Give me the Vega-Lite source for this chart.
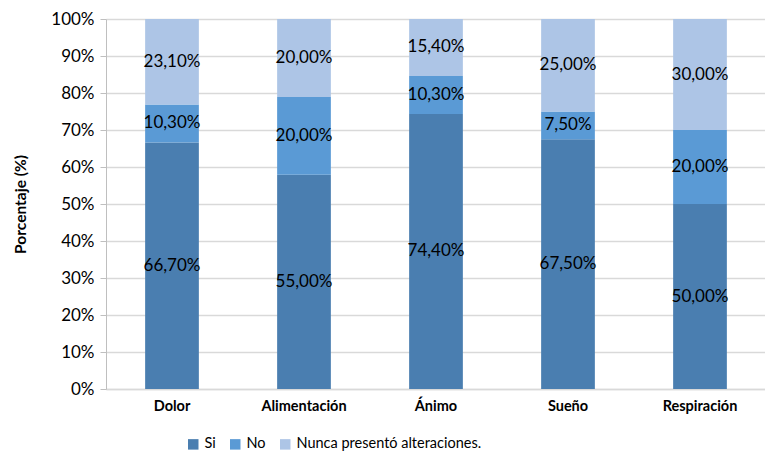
{
  "$schema": "https://vega.github.io/schema/vega-lite/v6.json",
  "width": 660,
  "height": 370,
  "autosize": {"type": "none"},
  "padding": {"left": 106, "top": 19, "right": 0, "bottom": 65},
  "background": "white",
  "config": {
    "locale": {"number": {"decimal": ",", "thousands": ".", "grouping": [3], "currency": ["", " €"]}},
    "view": {"stroke": null},
    "font": "Lato",
    "axisY": {
      "title": "Porcentaje (%)",
      "titleFont": "Lato",
      "titleFontSize": 15.5,
      "titleFontWeight": "bold",
      "titleColor": "#000000",
      "titlePadding": 22,
      "format": ".0%",
      "values": [0, 0.1, 0.2, 0.3, 0.4, 0.5, 0.6, 0.7, 0.8, 0.9, 1],
      "labelOverlap": false,
      "labelFont": "Lato",
      "labelFontSize": 17,
      "labelColor": "#000000",
      "labelPadding": 6,
      "tickSize": 6,
      "tickColor": "#bfbfbf",
      "domainColor": "#bfbfbf",
      "gridColor": "#d9d9d9",
      "gridWidth": 1.5
    }
  },
  "data": {
    "values": [
      {"cat": "Dolor", "serie": "Si", "v": 0.667},
      {"cat": "Dolor", "serie": "No", "v": 0.103},
      {"cat": "Dolor", "serie": "Nunca presentó alteraciones.", "v": 0.231},
      {"cat": "Alimentación", "serie": "Si", "v": 0.55},
      {"cat": "Alimentación", "serie": "No", "v": 0.20},
      {"cat": "Alimentación", "serie": "Nunca presentó alteraciones.", "v": 0.20},
      {"cat": "Ánimo", "serie": "Si", "v": 0.744},
      {"cat": "Ánimo", "serie": "No", "v": 0.103},
      {"cat": "Ánimo", "serie": "Nunca presentó alteraciones.", "v": 0.154},
      {"cat": "Sueño", "serie": "Si", "v": 0.675},
      {"cat": "Sueño", "serie": "No", "v": 0.075},
      {"cat": "Sueño", "serie": "Nunca presentó alteraciones.", "v": 0.25},
      {"cat": "Respiración", "serie": "Si", "v": 0.50},
      {"cat": "Respiración", "serie": "No", "v": 0.20},
      {"cat": "Respiración", "serie": "Nunca presentó alteraciones.", "v": 0.30}
    ]
  },
  "transform": [
    {"calculate": "indexof(['Si','No','Nunca presentó alteraciones.'], datum.serie)", "as": "ord"},
    {"stack": "v", "groupby": ["cat"], "sort": [{"field": "ord", "order": "ascending"}], "offset": "normalize", "as": ["y0", "y1"]},
    {"calculate": "(datum.y0 + datum.y1) / 2", "as": "ymid"}
  ],
  "encoding": {
    "x": {
      "field": "cat",
      "type": "nominal",
      "sort": ["Dolor", "Alimentación", "Ánimo", "Sueño", "Respiración"],
      "scale": {"paddingInner": 0.593, "paddingOuter": 0.2965},
      "axis": {
        "title": null,
        "labelAngle": 0,
        "labelFont": "Lato",
        "labelFontWeight": "bold",
        "labelFontSize": 14.5,
        "labelColor": "#000000",
        "labelPadding": 10,
        "ticks": false,
        "domainColor": "#d9d9d9",
        "domainWidth": 1.5,
        "grid": false
      }
    }
  },
  "layer": [
    {
      "mark": {"type": "bar"},
      "encoding": {
        "y": {
          "field": "y0",
          "type": "quantitative",
          "scale": {"domain": [0, 1]},
          "title": "Porcentaje (%)"
        },
        "y2": {"field": "y1"},
        "color": {
          "field": "serie",
          "type": "nominal",
          "scale": {
            "domain": ["Si", "No", "Nunca presentó alteraciones."],
            "range": ["#4a7eb0", "#5a9ad5", "#adc5e6"]
          },
          "legend": {
            "title": null,
            "orient": "none",
            "direction": "horizontal",
            "legendX": 80,
            "legendY": 418,
            "symbolType": "square",
            "symbolSize": 110,
            "symbolStrokeWidth": 0,
            "labelFont": "Lato",
            "labelFontSize": 14.5,
            "labelLimit": 0,
            "labelColor": "#000000",
            "labelOffset": 4,
            "columnPadding": 12
          }
        }
      }
    },
    {
      "mark": {"type": "text", "font": "Lato", "fontSize": 17, "color": "#000000", "baseline": "middle"},
      "encoding": {
        "y": {"field": "ymid", "type": "quantitative", "title": "Porcentaje (%)"},
        "text": {"field": "v", "type": "quantitative", "format": ".2%"}
      }
    }
  ]
}
